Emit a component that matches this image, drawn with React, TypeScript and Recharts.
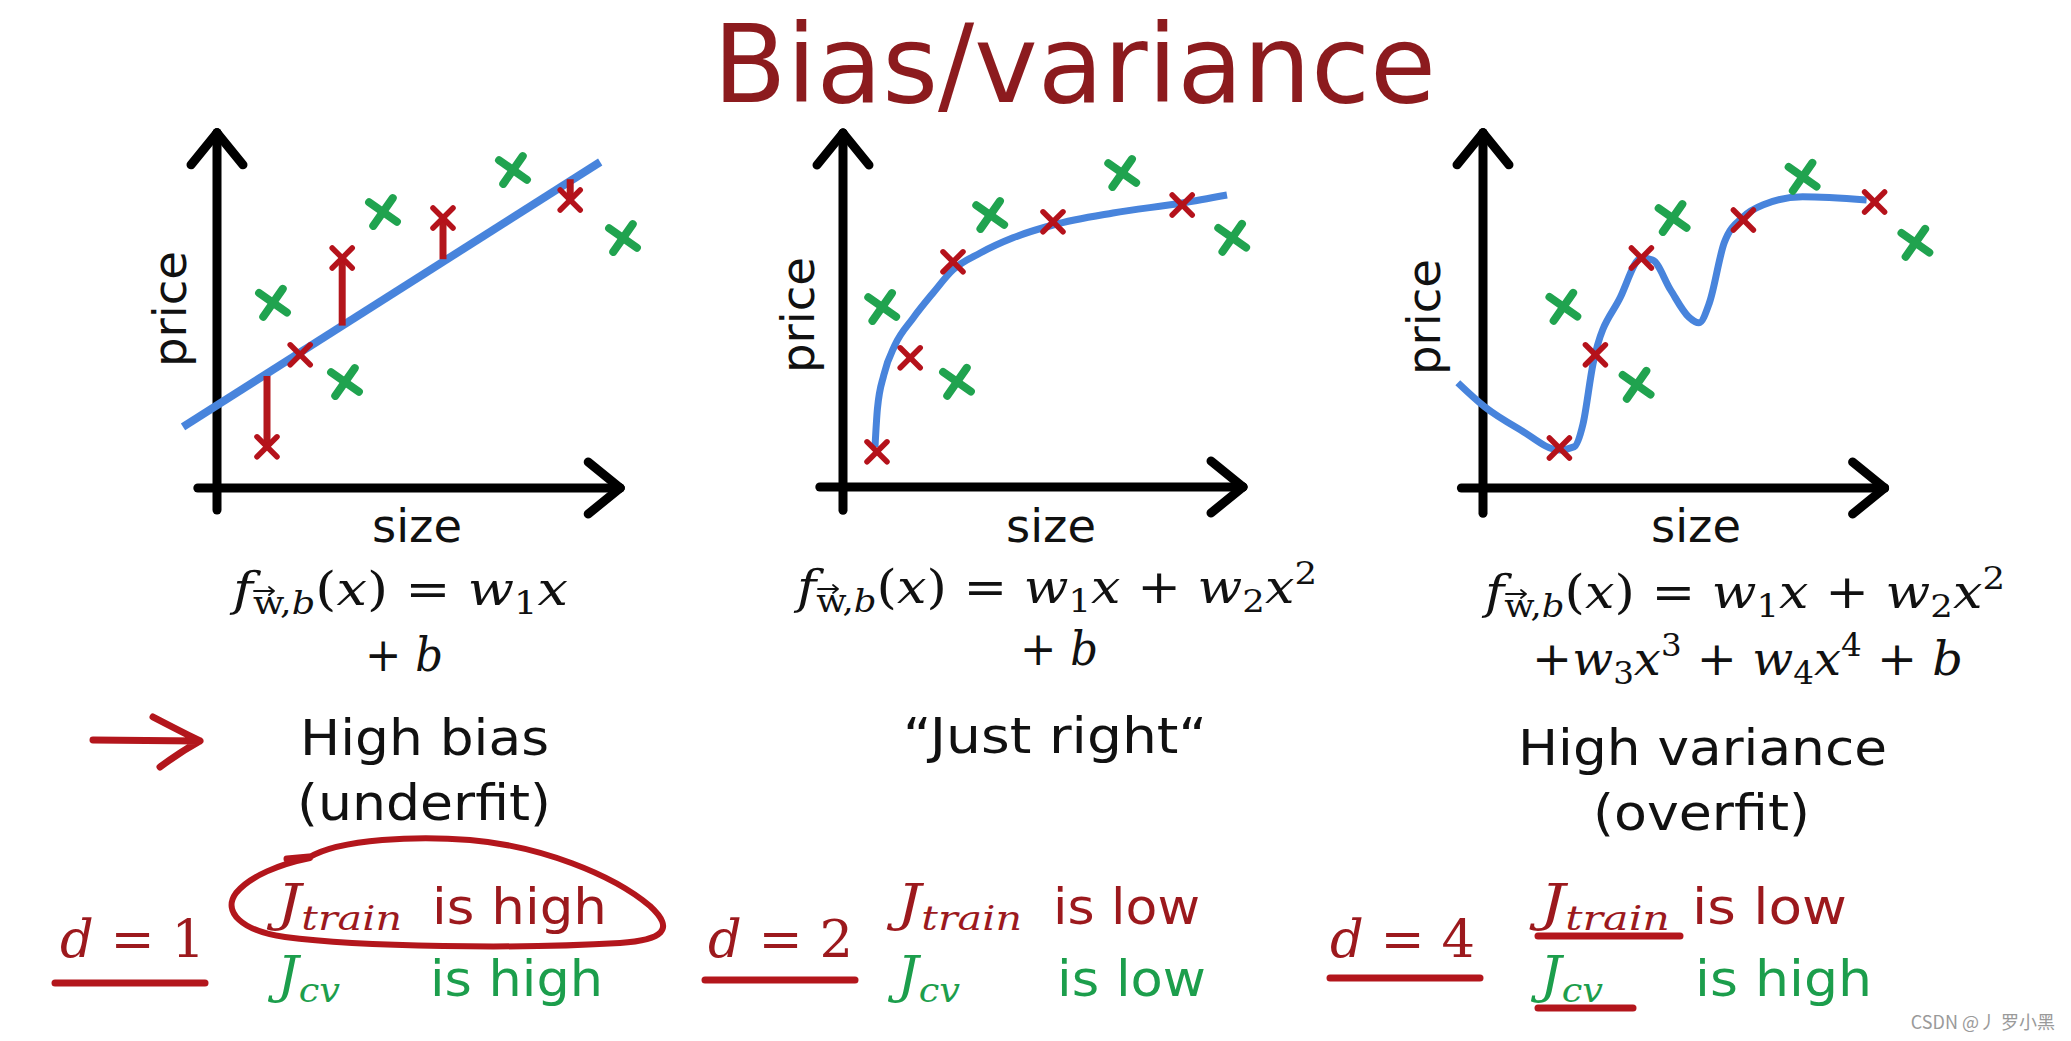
import React from 'react'
import { ComposedChart, Scatter, Line, XAxis, YAxis, ReferenceLine } from 'recharts'

type Pt = { x: number; y: number }

// units: x = size, y = price (origin at the axes crossing)
const biasTrain: Pt[] = [
  { x: 1.25, y: 1.03 }, { x: 2.08, y: 3.33 }, { x: 3.13, y: 5.75 }, { x: 5.65, y: 6.75 }, { x: 8.83, y: 7.2 },
]
const biasCv: Pt[] = [
  { x: 1.4, y: 4.63 }, { x: 3.2, y: 2.65 }, { x: 4.15, y: 6.9 }, { x: 7.4, y: 7.95 }, { x: 10.15, y: 6.25 },
]
const biasFit: Pt[] = [{ x: -0.85, y: 1.53 }, { x: 9.58, y: 8.15 }]
// where each training residual leaves the fitted line
const biasResidualFrom = [2.8, 3.33, 4.06, 5.72, 7.72]

const rightTrain: Pt[] = [
  { x: 0.85, y: 0.88 }, { x: 1.68, y: 3.23 }, { x: 2.75, y: 5.63 }, { x: 5.25, y: 6.63 }, { x: 8.48, y: 7.05 },
]
const rightCv: Pt[] = [
  { x: 0.98, y: 4.5 }, { x: 2.85, y: 2.63 }, { x: 3.68, y: 6.8 }, { x: 6.98, y: 7.85 }, { x: 9.73, y: 6.23 },
]
const rightFit: Pt[] = [
  { x: 0.8, y: 1.0 }, { x: 0.86, y: 1.95 }, { x: 1.02, y: 2.8 }, { x: 1.3, y: 3.55 }, { x: 1.75, y: 4.22 },
  { x: 2.25, y: 4.85 }, { x: 2.75, y: 5.43 }, { x: 3.43, y: 5.85 }, { x: 4.25, y: 6.23 }, { x: 5.25, y: 6.55 },
  { x: 6.75, y: 6.85 }, { x: 8.48, y: 7.1 }, { x: 9.6, y: 7.3 },
]

const varTrain: Pt[] = [
  { x: 1.91, y: 1.0 }, { x: 2.81, y: 3.33 }, { x: 3.96, y: 5.75 }, { x: 6.51, y: 6.7 }, { x: 9.79, y: 7.15 },
]
const varCv: Pt[] = [
  { x: 2.01, y: 4.53 }, { x: 3.84, y: 2.58 }, { x: 4.74, y: 6.75 }, { x: 7.99, y: 7.78 }, { x: 10.81, y: 6.13 },
]
const varFit: Pt[] = [
  { x: -0.63, y: 2.63 }, { x: 0.04, y: 2.03 }, { x: 0.94, y: 1.45 }, { x: 1.91, y: 0.95 }, { x: 2.28, y: 1.03 },
  { x: 2.5, y: 1.6 }, { x: 2.75, y: 3.1 }, { x: 3.44, y: 4.78 }, { x: 3.96, y: 5.75 }, { x: 4.24, y: 5.7 },
  { x: 4.69, y: 4.95 }, { x: 5.14, y: 4.28 }, { x: 5.4, y: 4.13 }, { x: 5.66, y: 4.63 }, { x: 6.03, y: 6.13 },
  { x: 6.51, y: 6.78 }, { x: 7.01, y: 7.08 }, { x: 7.99, y: 7.28 }, { x: 9.59, y: 7.2 },
]

const degrees = ['1', '2', '4']
const trainVerdicts = ['is high', 'is low', 'is low']
const cvVerdicts = ['is high', 'is low', 'is high']

const RED_MARK = '#b5121b'
const RED_PEN = '#b3161c'
const RED_TEXT = '#9c191d'
const GREEN_MARK = '#20a34f'
const GREEN_TEXT = '#1c9e4c'
const BLUE = '#4884dc'
const TITLE = '#8c1b1e'
const SANS = "'DejaVu Sans', Verdana, sans-serif"
const SERIF = "'DejaVu Serif', 'Liberation Serif', serif"

const PX = 40
const X_DOMAIN: [number, number] = [-1.5, 11.5]
const Y_DOMAIN: [number, number] = [-1, 10]

function XMark(props: any) {
  const { cx, cy, color, r, sw, tilt } = props
  if (typeof cx !== 'number' || typeof cy !== 'number') return <g />
  return (
    <g>
      {[45 + tilt, 135 + tilt].map((a) => {
        const t = (a * Math.PI) / 180
        const dx = Math.cos(t) * r * Math.SQRT2
        const dy = Math.sin(t) * r * Math.SQRT2
        return (
          <line key={a} x1={cx - dx} y1={cy - dy} x2={cx + dx} y2={cy + dy}
            stroke={color} strokeWidth={sw} strokeLinecap="round" />
        )
      })}
    </g>
  )
}

interface PanelProps {
  ox: number
  oy: number
  train: Pt[]
  cv: Pt[]
  fit: Pt[]
  axis: { x0: number; x1: number; y0: number; y1: number }
  fitType: 'linear' | 'monotone'
  residualFrom?: number[]
}

function Panel({ ox, oy, train, cv, fit, axis, fitType, residualFrom }: PanelProps) {
  const w = (X_DOMAIN[1] - X_DOMAIN[0]) * PX
  const h = (Y_DOMAIN[1] - Y_DOMAIN[0]) * PX
  const ax = { stroke: '#000', strokeWidth: 9, ifOverflow: 'visible' as const, strokeLinecap: 'round' as const }
  return (
    <div style={{ position: 'absolute', left: ox + X_DOMAIN[0] * PX, top: oy - Y_DOMAIN[1] * PX, width: w, height: h }}>
      <ComposedChart width={w} height={h} margin={{ top: 0, right: 0, bottom: 0, left: 0 }}>
        <XAxis type="number" dataKey="x" domain={X_DOMAIN} hide allowDataOverflow />
        <YAxis type="number" dataKey="y" domain={Y_DOMAIN} hide allowDataOverflow />
        <ReferenceLine segment={[{ x: axis.x0, y: 0 }, { x: axis.x1, y: 0 }]} {...ax} />
        <ReferenceLine segment={[{ x: axis.x1 - 0.8, y: 0.65 }, { x: axis.x1, y: 0 }]} {...ax} />
        <ReferenceLine segment={[{ x: axis.x1 - 0.8, y: -0.65 }, { x: axis.x1, y: 0 }]} {...ax} />
        <ReferenceLine segment={[{ x: 0, y: axis.y0 }, { x: 0, y: axis.y1 }]} {...ax} />
        <ReferenceLine segment={[{ x: -0.65, y: axis.y1 - 0.8 }, { x: 0, y: axis.y1 }]} {...ax} />
        <ReferenceLine segment={[{ x: 0.65, y: axis.y1 - 0.8 }, { x: 0, y: axis.y1 }]} {...ax} />
        <Line data={fit} dataKey="y" type={fitType} dot={false} activeDot={false}
          stroke={BLUE} strokeWidth={fitType === 'linear' ? 8 : 7} isAnimationActive={false} />
        {residualFrom &&
          train.map((p, i) =>
            Math.abs(residualFrom[i] - p.y) > 0.05 ? (
              <ReferenceLine key={i} segment={[{ x: p.x, y: residualFrom[i] }, { x: p.x, y: p.y }]}
                stroke={RED_PEN} strokeWidth={7} ifOverflow="visible" />
            ) : null,
          )}
        <Scatter data={cv} dataKey="y" isAnimationActive={false}
          shape={(p: any) => <XMark {...p} color={GREEN_MARK} r={12} sw={8} tilt={-10} />} />
        <Scatter data={train} dataKey="y" isAnimationActive={false}
          shape={(p: any) => <XMark {...p} color={RED_MARK} r={10} sw={5.5} tilt={0} />} />
      </ComposedChart>
    </div>
  )
}

type Seg = { t: string; i?: boolean; s?: 'sub' | 'sup' }

function MathText({ x, y, size, width, segs, fill = '#111' }: { x: number; y: number; size: number; width: number; segs: Seg[]; fill?: string }) {
  let shift = 0
  return (
    <text x={x} y={y} fontSize={size} fontFamily={SERIF} fill={fill} textLength={width} lengthAdjust="spacingAndGlyphs">
      {segs.map((s, k) => {
        const target = s.s === 'sub' ? size * 0.2 : s.s === 'sup' ? -size * 0.42 : 0
        const dy = target - shift
        shift = target
        return (
          <tspan key={k} dy={dy} fontStyle={s.i ? 'italic' : 'normal'} fontSize={s.s ? size * 0.68 : size}>
            {s.t}
          </tspan>
        )
      })}
    </text>
  )
}

// small vector arrow drawn over the subscript w of f_{w,b}
function VecArrow({ x, y }: { x: number; y: number }) {
  return (
    <path d={`M${x + 21},${y - 14} L${x + 41},${y - 14} M${x + 36},${y - 18} L${x + 41},${y - 14} L${x + 36},${y - 10}`}
      stroke="#111" strokeWidth={1.8} fill="none" strokeLinecap="round" strokeLinejoin="round" />
  )
}

function Label({ x, y, w, size, text, fill = '#111', anchor = 'start' }: any) {
  return (
    <text x={x} y={y} fontSize={size} fontFamily={SANS} fill={fill} textAnchor={anchor}
      textLength={w} lengthAdjust="spacingAndGlyphs">
      {text}
    </text>
  )
}

const fHead: Seg[] = [
  { t: 'f', i: true }, { t: 'w,', s: 'sub' }, { t: 'b', i: true, s: 'sub' },
  { t: '(' }, { t: 'x', i: true }, { t: ') = ' }, { t: 'w', i: true }, { t: '1', s: 'sub' }, { t: 'x', i: true },
]
const fQuad: Seg[] = [...fHead, { t: ' + ' }, { t: 'w', i: true }, { t: '2', s: 'sub' }, { t: 'x', i: true }, { t: '2', s: 'sup' }]
const plusB: Seg[] = [{ t: '+ ' }, { t: 'b', i: true }]
const fTail: Seg[] = [
  { t: '+' }, { t: 'w', i: true }, { t: '3', s: 'sub' }, { t: 'x', i: true }, { t: '3', s: 'sup' },
  { t: ' + ' }, { t: 'w', i: true }, { t: '4', s: 'sub' }, { t: 'x', i: true }, { t: '4', s: 'sup' },
  { t: ' + ' }, { t: 'b', i: true },
]
const jTrain: Seg[] = [{ t: 'J', i: true }, { t: 'train', i: true, s: 'sub' }]
const jCv: Seg[] = [{ t: 'J', i: true }, { t: 'cv', i: true, s: 'sub' }]

export default function App() {
  const priceAt = [
    [186, 309],
    [814, 315],
    [1440, 317],
  ]
  const sizeAt = [417, 1051, 1696]
  const dLeft = [60, 708, 1330]
  const dLine = [[55, 205, 983], [705, 855, 980], [1330, 1480, 978]]
  const jLeft = [277, 897, 1540]
  const trainTxt = [[432, 175], [1053, 147], [1692, 155]]
  const cvTxt = [[430, 173], [1057, 149], [1695, 177]]
  const formulaAt = [[233, 605], [797, 603], [1485, 608]]

  return (
    <div style={{ position: 'absolute', left: 0, top: 0, width: 2071, height: 1041, background: '#fff', overflow: 'hidden' }}>
      <svg width={2071} height={1041} style={{ position: 'absolute', left: 0, top: 0 }}>
        <Label x={1074.5} y={102} w={723} size={108} text="Bias/variance" fill={TITLE} anchor="middle" />

        {priceAt.map(([bx, cy], i) => (
          <g key={i} transform={`translate(${bx},${cy}) rotate(-90)`}>
            <Label x={0} y={0} w={116} size={46} text="price" anchor="middle" />
          </g>
        ))}
        {sizeAt.map((cx, i) => (
          <Label key={i} x={cx} y={542} w={90} size={46} text="size" anchor="middle" />
        ))}

        <MathText x={233} y={605} size={46} width={335} segs={fHead} />
        <MathText x={365} y={671} size={46} width={78} segs={plusB} />
        <MathText x={797} y={603} size={46} width={520} segs={fQuad} />
        <MathText x={1020} y={665} size={46} width={78} segs={plusB} />
        <MathText x={1485} y={608} size={46} width={520} segs={fQuad} />
        <MathText x={1532} y={675} size={46} width={431} segs={fTail} />
        {formulaAt.map(([x, y], i) => (
          <VecArrow key={i} x={x} y={y} />
        ))}

        <Label x={300} y={755} w={249} size={50} text="High bias" />
        <Label x={297} y={820} w={254} size={50} text="(underfit)" />
        <Label x={903} y={753} w={304} size={50} text={'\u201CJust right\u201C'} />
        <Label x={1518} y={765} w={369} size={50} text="High variance" />
        <Label x={1593} y={830} w={217} size={50} text="(overfit)" />

        {/* pen annotations */}
        <g stroke={RED_PEN} strokeWidth={7} strokeLinecap="round" fill="none">
          <path d="M93,740 L199,741 M153,717 Q178,730 200,741 M160,767 Q180,752 200,741" />
          <path d="M308,858 C340,838 420,836 470,840 C540,846 612,874 650,906 C676,930 662,940 620,943 C520,949 360,947 285,937 C242,931 222,912 236,893 C250,876 280,864 310,858" strokeWidth={6} />
          <path d="M287,859 L309,857" />
          {dLine.map(([a, b, y], i) => (
            <line key={i} x1={a} x2={b} y1={y} y2={y} />
          ))}
          <line x1={1538} x2={1680} y1={936} y2={936} />
          <line x1={1538} x2={1633} y1={1008} y2={1008} />
        </g>

        {degrees.map((d, i) => (
          <MathText key={i} x={dLeft[i]} y={957} size={52} width={dLine[i][1] - dLine[i][0] - 5}
            segs={[{ t: 'd', i: true }, { t: ' = ' + d }]} fill={RED_TEXT} />
        ))}
        {jLeft.map((x, i) => (
          <g key={i}>
            <MathText x={x} y={920} size={50} width={i === 2 ? 130 : 125} segs={jTrain} fill={RED_TEXT} />
            <MathText x={x} y={992} size={50} width={63} segs={jCv} fill={GREEN_TEXT} />
            <Label x={trainTxt[i][0]} y={924} w={trainTxt[i][1]} size={50} text={trainVerdicts[i]} fill={RED_TEXT} />
            <Label x={cvTxt[i][0]} y={996} w={cvTxt[i][1]} size={50} text={cvVerdicts[i]} fill={GREEN_TEXT} />
          </g>
        ))}

        <text x={2055} y={1029} fontSize={18} fontFamily="'Noto Sans CJK SC', sans-serif" fill="#9a9a9a" textAnchor="end">
          CSDN @丿 罗小黑
        </text>
      </svg>

      <Panel ox={217} oy={488} train={biasTrain} cv={biasCv} fit={biasFit} fitType="linear"
        axis={{ x0: -0.48, x1: 10.08, y0: -0.55, y1: 8.88 }} residualFrom={biasResidualFrom} />
      <Panel ox={843} oy={487} train={rightTrain} cv={rightCv} fit={rightFit} fitType="monotone"
        axis={{ x0: -0.58, x1: 10.0, y0: -0.58, y1: 8.85 }} />
      <Panel ox={1482.5} oy={488} train={varTrain} cv={varCv} fit={varFit} fitType="monotone"
        axis={{ x0: -0.54, x1: 10.04, y0: -0.63, y1: 8.88 }} />
    </div>
  )
}
